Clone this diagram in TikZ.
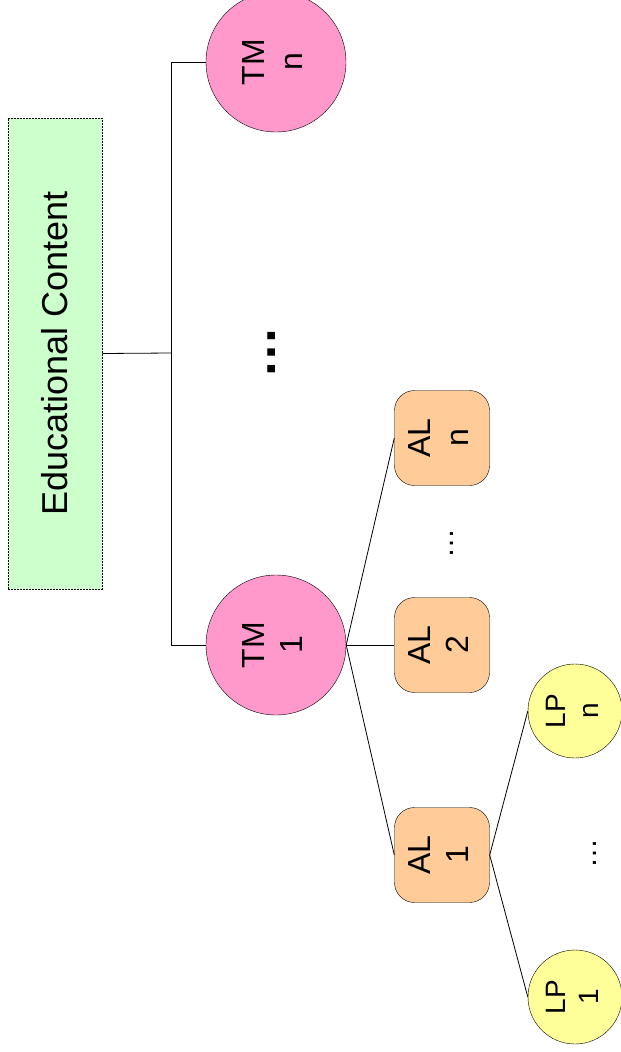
\documentclass[tikz,border=0pt]{standalone}
\usepackage{fontspec}
\setmainfont{Liberation Sans}
\usepackage{tikz}
\usetikzlibrary{positioning,calc}

\definecolor{tmpink}{HTML}{FF99CC}
\definecolor{alorange}{HTML}{FFCC99}
\definecolor{lpyellow}{HTML}{FFFF99}
\definecolor{ecgreen}{HTML}{CCFFCC}

% two-line label turned to read upwards
\newcommand{\uplabel}[2]{\rotatebox{90}{\begin{tabular}{@{}c@{}}#1\\#2\end{tabular}}}

\begin{document}
\begin{tikzpicture}[x=1pt,y=-1pt]
			\tikzset{
				tmnode/.style={draw,fill=tmpink,circle,minimum size=140pt,inner sep=0pt,font=\fontsize{32}{38}\selectfont},
				alnode/.style={draw,fill=alorange,rounded corners=20pt,minimum size=95pt,inner sep=0pt,font=\fontsize{32}{38}\selectfont},
				lpnode/.style={draw,fill=lpyellow,circle,minimum size=94pt,inner sep=0pt,font=\fontsize{28}{33}\selectfont},
				link/.style={line width=0.8pt},
				moredots/.style={inner sep=0pt,font=\fontsize{30}{36}\selectfont},
			}
			\useasboundingbox (0,0) rectangle (621,1052);
			\clip (0,0) rectangle (621,1052);

			\node[draw,fill=ecgreen,dash pattern=on 2pt off 1pt,line width=0.6pt,
				minimum width=94pt,minimum height=471pt,inner sep=0pt] (ec) at (55,353.5)
				{\rotatebox{90}{\fontsize{36}{43}\selectfont Educational Content}};

			\node[tmnode] (tmn) at (276,62) {\uplabel{TM}{n}};
			\node[tmnode] (tm1) at (276,645) {\uplabel{TM}{1}};
			\node[inner sep=0pt] (tmdots) at (272,352)
				{\rotatebox{90}{\fontsize{52}{60}\selectfont\bfseries\char"2026}};

			\node[alnode] (aln) at (442,438) {\uplabel{AL}{n}};
			\node[alnode] (al2) at (442,645) {\uplabel{AL}{2}};
			\node[alnode] (al1) at (442,855) {\uplabel{AL}{1}};
			\node[moredots] (aldots) at (452,543) {\rotatebox{90}{\char"2026}};

			\node[lpnode] (lpn) at (575,711) {\uplabel{LP}{n}};
			\node[lpnode] (lp1) at (575,997) {\uplabel{LP}{1}};
			\node[moredots] (lpdots) at (595,853) {\rotatebox{90}{\char"2026}};

			% content -> topic maps
			\coordinate (hub) at (171,353);
			\draw[link] (ec.east) -- (hub);
			\draw[link] (tmn.west) -| (hub);
			\draw[link] (tm1.west) -| (hub);

			% topic map -> activity lists
			\draw[link] (tm1.east) -- (aln.west);
			\draw[link] (tm1.east) -- (al2.west);
			\draw[link] (tm1.east) -- (al1.west);

			% activity list -> learning paths
			\draw[link] (al1.east) -- (lpn.west);
			\draw[link] (al1.east) -- (lp1.west);
		\end{tikzpicture}
\end{document}
